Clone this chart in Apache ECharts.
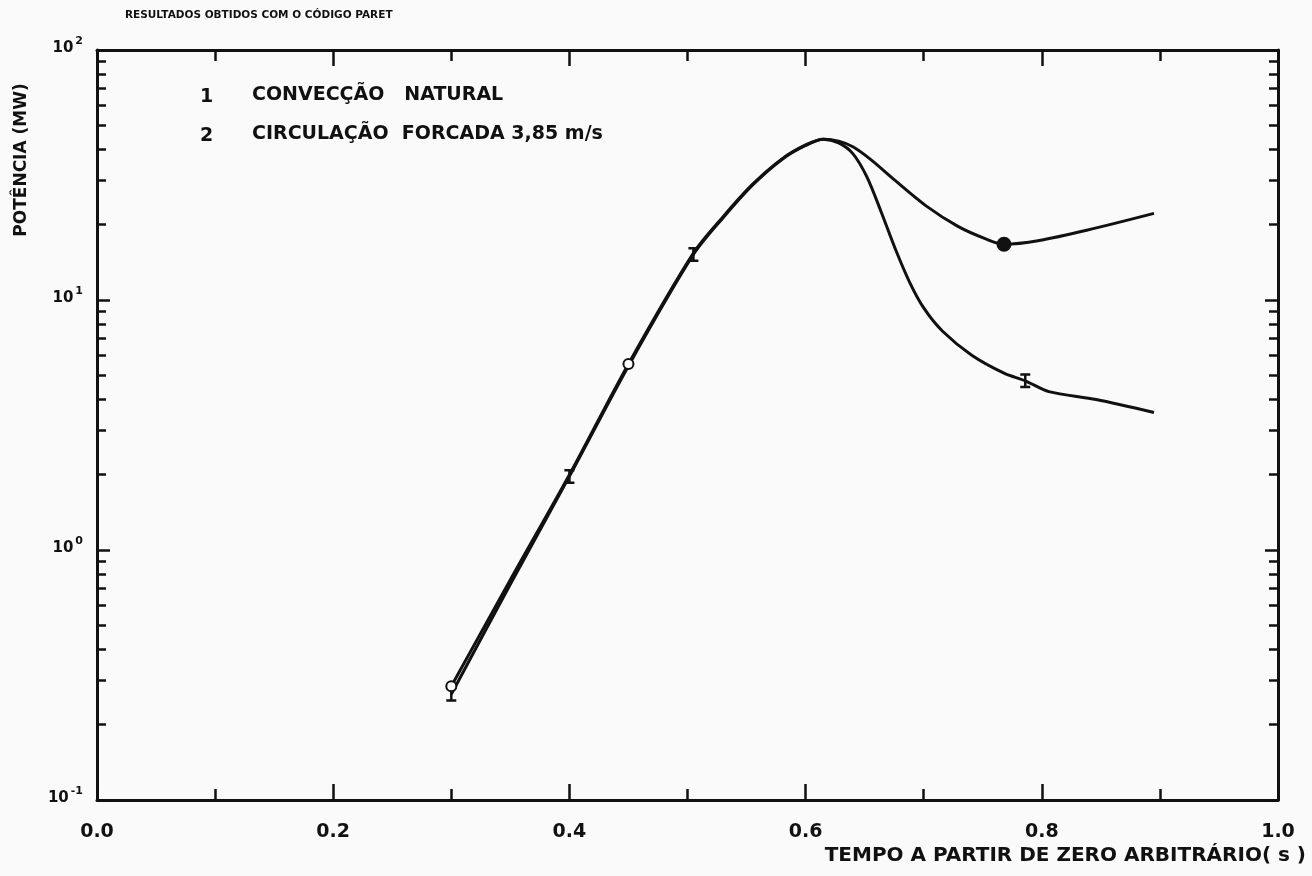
<!DOCTYPE html>
<html><head><meta charset="utf-8">
<script src="https://cdn.jsdelivr.net/npm/echarts@6/dist/echarts.min.js"></script>
<style>html,body{margin:0;padding:0;background:#fafafa}#c{width:1312px;height:876px}</style>
</head><body><div id="c"></div>
<script>
// ---- data ----
const timeNatural  = [0.30, 0.35, 0.40, 0.45, 0.505, 0.53, 0.555, 0.58, 0.60, 0.615, 0.628, 0.64, 0.652, 0.664, 0.676, 0.688, 0.70, 0.716, 0.741, 0.768, 0.786, 0.806, 0.846, 0.895];
const powerNatural = [0.265, 0.73, 1.97, 5.45, 15.2, 21.3, 28.8, 36.5, 41.5, 44.0, 42.5, 38.5, 31.0, 22.5, 16.0, 11.8, 9.3, 7.5, 6.0, 5.1, 4.75, 4.3, 4.0, 3.55];
const timeForced   = [0.30, 0.35, 0.40, 0.45, 0.505, 0.53, 0.555, 0.58, 0.60, 0.615, 0.628, 0.64, 0.655, 0.676, 0.702, 0.729, 0.752, 0.768, 0.798, 0.838, 0.895];
const powerForced  = [0.285, 0.76, 2.0, 5.55, 15.4, 21.5, 29.0, 36.7, 41.7, 44.0, 43.2, 41.0, 36.5, 30.0, 23.8, 19.7, 17.6, 16.7, 17.3, 19.0, 22.2];
const markTimeNatural  = [0.30, 0.40, 0.505, 0.786];
const markPowerNatural = [0.265, 1.97, 15.2, 4.75];
const markTimeForced   = [0.30, 0.45, 0.768];
const markPowerForced  = [0.285, 5.55, 16.7];
const markFilledForced = [false, false, true];
const xTickLabels = {0: '0.0', 0.2: '0.2', 0.4: '0.4', 0.6: '0.6', 0.8: '0.8', 1: '1.0'};
const yTickExponents = {'-1': '-1', '0': '0', '1': '1', '2': '2'};
const titleText = 'RESULTADOS OBTIDOS COM O CÓDIGO PARET';
const legendNums = ['1', '2'];
const legendTexts = ['CONVECÇÃO   NATURAL', 'CIRCULAÇÃO  FORCADA 3,85 m/s'];
const yName = 'POTÊNCIA (MW)';
const xName = 'TEMPO A PARTIR DE ZERO ARBITRÁRIO( s )';

const ink = '#111';
const FONT = '"DejaVu Sans", "Liberation Sans", sans-serif';
const pair = (xs, ys) => xs.map((x, i) => [x, ys[i]]);

const tickStyle = {color: ink, width: 2.5};
function xAxisCfg(pos, showLabel) {
  return {
    type: 'value', position: pos, min: 0, max: 1, interval: 0.2,
    axisLine: {show: true, onZero: false, lineStyle: {color: ink, width: 3}},
    axisTick: {show: true, inside: true, length: 16, lineStyle: tickStyle},
    minorTick: {show: true, splitNumber: 2, length: 11, lineStyle: tickStyle},
    splitLine: {show: false},
    axisLabel: {show: showLabel, margin: 23, color: ink, fontSize: 19, fontWeight: 'bold', fontFamily: FONT,
      formatter: v => xTickLabels[Math.round(v * 10) / 10] || ''}
  };
}
function yAxisCfg(pos, showLabel) {
  return {
    type: 'log', logBase: 10, position: pos, min: 0.1, max: 100,
    axisLine: {show: true, onZero: false, lineStyle: {color: ink, width: 3}},
    axisTick: {show: true, inside: true, length: 13, lineStyle: tickStyle},
    minorTick: {show: true, splitNumber: 9, length: 9, lineStyle: tickStyle},
    splitLine: {show: false},
    axisLabel: {show: showLabel, margin: 14, color: ink, fontFamily: FONT,
      padding: [0, 0, 8, 0],
      formatter: v => {
        const e = yTickExponents[String(Math.round(Math.log10(v)))];
        return e === undefined ? '' : '{n|10}{s|' + e + '}';
      },
      rich: {
        n: {fontSize: 15, fontWeight: 'bold', fontFamily: FONT, color: ink, lineHeight: 20, verticalAlign: 'bottom'},
        s: {fontSize: 11, fontWeight: 'bold', fontFamily: FONT, color: ink, lineHeight: 20, verticalAlign: 'top', padding: [0, 0, 0, 2]}
      }}
  };
}

const chart = echarts.init(document.getElementById('c'), null, {renderer: 'canvas'});
chart.setOption({
  backgroundColor: '#fafafa',
  animation: false,
  grid: {left: 97, right: 34, top: 50, bottom: 76, containLabel: false},
  xAxis: [xAxisCfg('bottom', true), xAxisCfg('top', false)],
  yAxis: [yAxisCfg('left', true), yAxisCfg('right', false)],
  series: [
    {name: legendTexts[0], type: 'line', data: pair(timeNatural, powerNatural), smooth: 0.3,
      symbol: 'none', lineStyle: {color: ink, width: 3}, z: 3},
    {name: legendTexts[1], type: 'line', data: pair(timeForced, powerForced), smooth: 0.3,
      symbol: 'none', lineStyle: {color: ink, width: 3}, z: 3},
    {type: 'scatter', data: pair(markTimeNatural, markPowerNatural), z: 4,
      symbol: 'path://M0,0 L8,0 L8,2 L5,2 L5,10 L8,10 L8,12 L0,12 L0,10 L3,10 L3,2 L0,2 Z',
      symbolSize: [10, 15], itemStyle: {color: ink, opacity: 1}},
    {type: 'scatter', z: 4,
      data: pair(markTimeForced, markPowerForced).map((v, i) =>
        ({value: v, symbol: markFilledForced[i] ? 'circle' : 'emptyCircle', symbolSize: markFilledForced[i] ? 12 : 10})),
      itemStyle: {color: ink, borderColor: ink, borderWidth: 3, opacity: 1}}
  ],
  graphic: [
    {type: 'text', left: 125, top: 10, style: {text: titleText, font: 'bold 10.5px ' + FONT, fill: ink}},
    {type: 'text', left: 200, top: 88, style: {text: legendNums[0], font: 'bold 19px ' + FONT, fill: ink}},
    {type: 'text', left: 252, top: 86, style: {text: legendTexts[0], font: 'bold 19px ' + FONT, fill: ink}},
    {type: 'text', left: 200, top: 127, style: {text: legendNums[1], font: 'bold 19px ' + FONT, fill: ink}},
    {type: 'text', left: 252, top: 125, style: {text: legendTexts[1], font: 'bold 19px ' + FONT, fill: ink}},
    {type: 'text', x: 22, y: 160, rotation: Math.PI / 2,
      style: {text: yName, font: 'bold 17px ' + FONT, fill: ink, align: 'center', verticalAlign: 'middle'}},
    {type: 'text', right: 6, top: 846, style: {text: xName, font: 'bold 20px ' + FONT, fill: ink}}
  ]
});
</script>
</body></html>
